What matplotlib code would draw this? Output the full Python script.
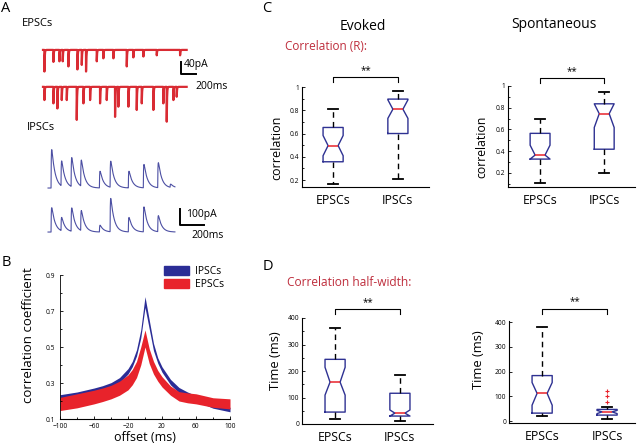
import numpy as np
import matplotlib
matplotlib.use("Agg")
import matplotlib.pyplot as plt
from matplotlib.patches import Patch

plt.rcParams['font.family'] = ['Open Sans', 'DejaVu Sans']

W, H = 640, 445

# ---------- panel A: events (ms, pA) ----------
epsc1_t = [18, 138, 218, 262, 338, 458, 516, 573, 716, 804, 938, 1116, 1204, 1338, 1516, 1827]
epsc1_amp = [72, 40, 38, 38, 55, 65, 50, 72, 38, 28, 28, 55, 25, 22, 18, 18]
epsc2_t = [18, 138, 191, 249, 316, 449, 538, 627, 760, 849, 960, 1004, 1138, 1249, 1316,
           1471, 1604, 1649, 1738, 1782]
epsc2_amp = [44, 55, 72, 44, 44, 110, 55, 44, 55, 44, 100, 66, 66, 77, 55, 77, 55, 116, 44, 33]
epsc_len = 1916

ipsc1_t = [25, 108, 192, 272, 428, 517, 669, 794, 914, 1017]
ipsc1_amp = [240, 156, 181, 163, 104, 163, 104, 146, 156, 20]
ipsc2_t = [25, 108, 192, 272, 428, 517, 669, 794, 914]
ipsc2_amp = [152, 83, 146, 125, 42, 208, 90, 156, 100]
ipsc_len = 1058

# ---------- panel B: cross-correlation bands ----------
offsets = [-100, -80, -60, -50, -40, -30, -20, -15, -10, -5, 0, 5, 10, 15, 20, 30, 40, 50, 60, 80, 100]
ipsc_hi = [0.235, 0.25, 0.272, 0.285, 0.302, 0.33, 0.38, 0.42, 0.485, 0.595, 0.78,
           0.65, 0.52, 0.44, 0.39, 0.32, 0.275, 0.25, 0.23, 0.19, 0.165]
ipsc_lo = [0.205, 0.22, 0.242, 0.255, 0.272, 0.30, 0.35, 0.39, 0.45, 0.55, 0.72,
           0.60, 0.48, 0.41, 0.36, 0.29, 0.245, 0.22, 0.20, 0.16, 0.14]
epsc_hi = [0.22, 0.24, 0.26, 0.272, 0.287, 0.31, 0.345, 0.375, 0.42, 0.50, 0.595,
           0.49, 0.42, 0.37, 0.335, 0.283, 0.252, 0.245, 0.24, 0.218, 0.212]
epsc_lo = [0.147, 0.162, 0.184, 0.197, 0.212, 0.232, 0.262, 0.29, 0.33, 0.40, 0.50,
           0.408, 0.35, 0.31, 0.278, 0.232, 0.20, 0.19, 0.184, 0.165, 0.156]

# ---------- panels C, D: box stats [whislo, q1, cilo, med, cihi, q3, whishi] ----------
groups = ['EPSCs', 'IPSCs']
evk_R_epsc = [0.165, 0.357, 0.409, 0.496, 0.583, 0.652, 0.809]
evk_R_ipsc = [0.209, 0.60, 0.73, 0.809, 0.89, 0.896, 0.965]
spn_R_epsc = [0.109, 0.327, 0.327, 0.364, 0.455, 0.564, 0.70]
spn_R_ipsc = [0.20, 0.418, 0.618, 0.745, 0.836, 0.836, 0.945]
evk_hw_epsc = [19, 45, 109, 158, 214, 244, 364]
evk_hw_ipsc = [11, 30, 30, 41, 53, 116, 184]
spn_hw_epsc = [20, 32, 64, 112, 156, 184, 380]
spn_hw_ipsc = [7, 24, 30, 37, 43, 47, 57]
spn_hw_ipsc_fliers = [79, 101, 121]

RED = '#e8232b'
BLUE = '#2b2d96'
BOXBLUE = '#2e3192'
TITLERED = '#be2d3c'

fig = plt.figure(figsize=(W / 100, H / 100), dpi=100)


def add_ax(l, t, r, b):
    return fig.add_axes([l / W, 1 - b / H, (r - l) / W, (b - t) / H])


def ftext(x, y, s, **kw):
    fig.text(x / W, 1 - y / H, s, **kw)


def psc_trace(t, times, amps, rise, decay):
    y = np.zeros_like(t)
    s = np.arange(0, 10 * decay, 0.5)
    knorm = (np.exp(-s / decay) - np.exp(-s / rise)).max()
    for t0, a in zip(times, amps):
        d = t - t0
        m = d >= 0
        y[m] += a * (np.exp(-d[m] / decay) - np.exp(-d[m] / rise)) / knorm
    return y


# ---- A: EPSC traces ----
axe = add_ax(40, 40, 210, 125)
te = np.arange(0, epsc_len, 0.5)
axe.plot(te, -psc_trace(te, epsc1_t, epsc1_amp, 0.3, 4), color='#d92b33', lw=1.6)
axe.plot(te, -psc_trace(te, epsc2_t, epsc2_amp, 0.3, 4) - 123, color='#d92b33', lw=1.6)
axe.plot([1840, 1840, 2040], [-40, -80, -80], color='k', lw=1.4, clip_on=False)
axe.text(1880, -50, '40pA', fontsize=7.5, va='center')
axe.text(2027, -123, '200ms', fontsize=7.5, va='center')
axe.set_xlim(-40, 2227)
axe.set_ylim(-250, 33)
axe.axis('off')

# ---- A: IPSC traces ----
axi = add_ax(40, 140, 210, 245)
ti = np.arange(0, ipsc_len, 0.5)
axi.plot(ti, psc_trace(ti, ipsc1_t, ipsc1_amp, 2, 28), color='#4c4fa3', lw=0.8)
axi.plot(ti, psc_trace(ti, ipsc2_t, ipsc2_amp, 2, 28) - 275, color='#4c4fa3', lw=0.8)
axi.plot([1100, 1100, 1300], [-131, -231, -231], color='k', lw=1.4, clip_on=False)
axi.text(1150, -165, '100pA', fontsize=7.5, va='center')
axi.text(1192, -294, '200ms', fontsize=7.5, va='center')
axi.set_xlim(-67, 1350)
axi.set_ylim(-356, 300)
axi.axis('off')

ftext(6, 9, 'A', fontsize=10.5, ha='center', va='center')
ftext(22, 23, 'EPSCs', fontsize=8, va='center')
ftext(27, 127, 'IPSCs', fontsize=8, va='center')

# ---- B: correlation vs offset ----
axb = add_ax(60, 275, 230, 419)
axb.fill_between(offsets, ipsc_lo, ipsc_hi, color=BLUE, lw=0)
axb.fill_between(offsets, epsc_lo, epsc_hi, color=RED, lw=0)
axb.set_xlim(-100, 100)
axb.set_ylim(0.1, 0.9)
axb.set_xticks(np.arange(-100, 101, 40))
axb.set_xticks(np.arange(-80, 81, 40), minor=True)
axb.set_yticks([0.1, 0.3, 0.5, 0.7, 0.9])
axb.set_yticks([0.2, 0.4, 0.6, 0.8], minor=True)
axb.tick_params(which='both', direction='in', labelsize=4.8, width=0.6)
axb.tick_params(axis='x', pad=3)
axb.tick_params(axis='y', pad=3.5)
axb.tick_params(which='major', length=2.5)
axb.tick_params(which='minor', length=1.5)
for sp in ['top', 'right']:
    axb.spines[sp].set_visible(False)
axb.spines['left'].set_linewidth(0.6)
axb.spines['bottom'].set_linewidth(0.8)
axb.set_xlabel('offset (ms)', fontsize=9, labelpad=0.5)
axb.set_ylabel('correlation coefficient', fontsize=9.5)
axb.yaxis.set_label_coords(-0.145, 0.58)
axb.legend(handles=[Patch(color=BLUE, label='IPSCs'), Patch(color=RED, label='EPSCs')],
           loc='upper left', bbox_to_anchor=(164 / W, 1 - 266 / H), bbox_transform=fig.transFigure,
           frameon=False, fontsize=7.5, handlelength=2.4, handleheight=0.9, handletextpad=0.6,
           labelspacing=0.2, borderpad=0, borderaxespad=0)
ftext(6, 263, 'B', fontsize=10.5, ha='center', va='center')


# ---- C, D: boxplots ----
def box_panel(ax, epsc, ipsc, fliers, ylim, major, minor, yfmt, ylabel, lab_size, lab_xy, bracket_y):
    stats = []
    for name, s, fl in zip(groups, [epsc, ipsc], fliers):
        stats.append(dict(label=name, whislo=s[0], q1=s[1], cilo=s[2], med=s[3],
                          cihi=s[4], q3=s[5], whishi=s[6], fliers=fl))
    ax.bxp(stats, positions=[1, 2], widths=0.31, capwidths=0.155, shownotches=True,
           boxprops=dict(color=BOXBLUE, lw=1.0),
           medianprops=dict(color=RED, lw=1.1),
           whiskerprops=dict(color='k', lw=1.0, ls=(0, (4, 3))),
           capprops=dict(color='k', lw=1.3),
           flierprops=dict(marker='+', markeredgecolor=RED, markersize=3, ls='none', mew=0.8))
    ax.set_ylim(*ylim)
    ax.set_yticks(major)
    ax.set_yticklabels([yfmt(v) for v in major])
    ax.set_yticks(minor, minor=True)
    ax.tick_params(axis='y', which='both', direction='in', labelsize=4.8, width=0.6, pad=2)
    ax.tick_params(axis='y', which='major', length=2.5)
    ax.tick_params(axis='y', which='minor', length=1.5)
    ax.tick_params(axis='x', length=0, labelsize=8.8, pad=5)
    for sp in ['top', 'right']:
        ax.spines[sp].set_visible(False)
    ax.spines['left'].set_linewidth(0.8)
    ax.spines['bottom'].set_linewidth(0.8)
    ax.set_ylabel(ylabel, fontsize=lab_size)
    ax.yaxis.set_label_coords(*lab_xy)
    tr = ax.get_xaxis_transform()
    ax.plot([1, 1, 2, 2], [bracket_y - 0.05, bracket_y, bracket_y, bracket_y - 0.05],
            color='k', lw=0.8, transform=tr, clip_on=False)
    ax.text(1.5, bracket_y + 0.012, '**', fontsize=7, ha='center', va='bottom', transform=tr)


def fmt_r(v):
    return '1' if v == 1 else '%.1f' % v


def fmt_t(v):
    return '%d' % v


axc1 = add_ax(302, 87, 429, 187)
box_panel(axc1, evk_R_epsc, evk_R_ipsc, [[], []], (0.14, 1.0),
          [0.2, 0.4, 0.6, 0.8, 1.0], np.arange(0.2, 1.0, 0.1), fmt_r,
          'correlation', 9, (-0.15, 0.39), 1.10)
axc1.set_xlim(0.52, 2.48)

axc2 = add_ax(508, 86, 635, 187)
box_panel(axc2, spn_R_epsc, spn_R_ipsc, [[], []], (0.07, 1.0),
          [0.2, 0.4, 0.6, 0.8, 1.0], np.arange(0.1, 1.0, 0.1), fmt_r,
          'correlation', 8.8, (-0.157, 0.40), 1.08)
axc2.set_xlim(0.5, 2.48)

axd1 = add_ax(302, 318, 433, 424)
box_panel(axd1, evk_hw_epsc, evk_hw_ipsc, [[], []], (0, 400),
          [0, 100, 200, 300, 400], np.arange(50, 400, 50), fmt_t,
          'Time (ms)', 9.3, (-0.153, 0.60), 1.085)
axd1.set_xlim(0.49, 2.51)

axd2 = add_ax(509, 321, 635, 423)
box_panel(axd2, spn_hw_epsc, spn_hw_ipsc, [[], spn_hw_ipsc_fliers], (-8, 405),
          [0, 100, 200, 300, 400], [], fmt_t,
          'Time (ms)', 9.3, (-0.19, 0.62), 1.12)
axd2.set_xlim(0.49, 2.43)

ftext(267, 8, 'C', fontsize=10.5, ha='center', va='center')
ftext(268, 267, 'D', fontsize=10.5, ha='center', va='center')
ftext(363, 26, 'Evoked', fontsize=10, ha='center', va='center')
ftext(554, 25, 'Spontaneous', fontsize=10, ha='center', va='center')
ftext(285, 47, 'Correlation (R):', fontsize=8.5, color=TITLERED, va='center')
ftext(287, 282, 'Correlation half-width:', fontsize=8.6, color=TITLERED, va='center')

fig.savefig('out.png', dpi=100)
